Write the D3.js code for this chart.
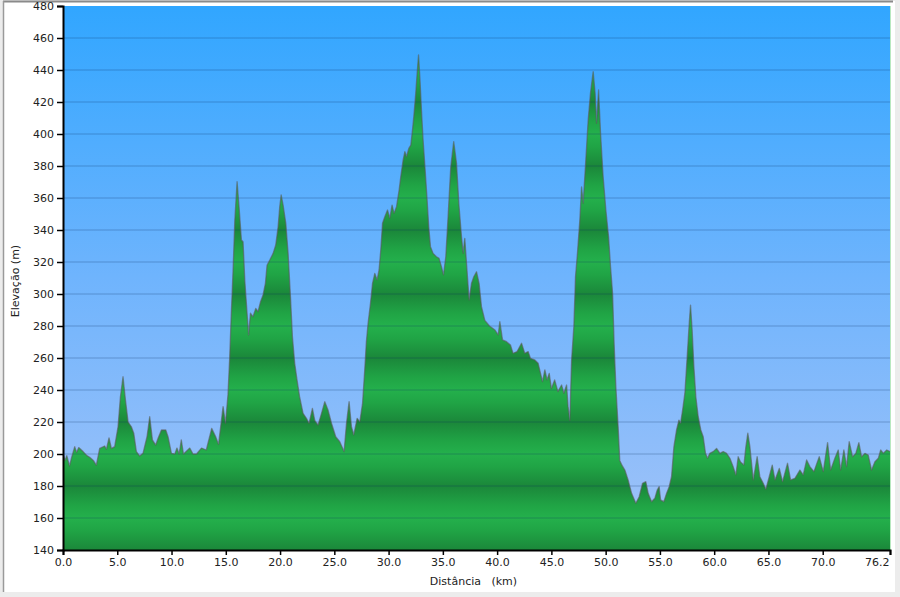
<!DOCTYPE html>
<html>
<head>
<meta charset="utf-8">
<script src="https://cdn.jsdelivr.net/npm/d3@7/dist/d3.min.js"></script>
<style>
html,body{margin:0;padding:0;background:#ececec;}
svg{display:block;}
text{font-family:"DejaVu Sans",Verdana,sans-serif;fill:#222;}
</style>
</head>
<body>
<svg id="chart" width="900" height="597"></svg>
<script>
// ---- data ----
const distKm = [0.0,0.2,0.35,0.6,0.8,1.08,1.25,1.45,1.85,2.2,2.46,2.8,3.07,3.38,3.84,4.0,4.24,4.46,4.76,5.07,5.29,5.53,5.75,6.0,6.3,6.52,6.76,7.07,7.37,7.74,7.99,8.24,8.54,8.76,9.07,9.47,9.68,9.99,10.3,10.5,10.7,10.9,11.1,11.68,11.98,12.3,12.76,13.2,13.7,14.07,14.33,14.75,14.97,15.2,15.36,15.52,15.67,15.83,16.04,16.22,16.44,16.59,16.75,16.96,17.1,17.27,17.5,17.76,17.97,18.2,18.43,18.65,18.8,19.05,19.36,19.6,19.82,19.97,20.1,20.28,20.53,20.74,20.96,21.14,21.35,21.57,21.8,22.12,22.43,22.67,22.98,23.2,23.5,23.82,24.12,24.42,24.74,25.13,25.5,25.9,26.12,26.36,26.58,26.79,27.1,27.35,27.6,27.8,27.95,28.11,28.33,28.52,28.73,28.94,29.12,29.28,29.44,29.65,29.9,30.11,30.32,30.5,30.73,30.97,31.12,31.34,31.5,31.65,31.86,32.05,32.2,32.32,32.5,32.63,32.76,32.88,33.03,33.18,33.37,33.55,33.7,33.86,34.1,34.41,34.65,34.87,35.06,35.27,35.48,35.73,36.0,36.26,36.47,36.72,36.87,37.02,37.18,37.42,37.64,37.85,38.1,38.34,38.56,38.87,39.3,39.8,40.1,40.25,40.5,40.87,41.23,41.47,41.84,42.25,42.55,42.86,43.07,43.47,43.78,44.0,44.18,44.4,44.6,44.8,45.0,45.3,45.6,45.94,46.15,46.4,46.54,46.7,46.86,47.07,47.22,47.4,47.62,47.78,47.93,48.17,48.39,48.6,48.85,49.03,49.16,49.35,49.53,49.77,50.02,50.27,50.45,50.64,50.78,50.94,51.15,51.3,51.5,51.77,52.07,52.39,52.78,53.09,53.4,53.7,53.92,54.23,54.53,54.75,54.93,55.06,55.36,55.61,55.85,56.07,56.29,56.53,56.75,56.9,57.09,57.3,57.51,57.7,57.82,57.97,58.13,58.31,58.53,58.77,58.99,59.2,59.39,59.6,59.91,60.22,60.53,60.83,61.14,61.45,61.75,62.0,62.21,62.43,62.74,62.92,63.1,63.29,63.6,63.96,64.21,64.52,64.76,65.07,65.35,65.6,66.0,66.3,66.76,67.04,67.44,67.9,68.2,68.52,68.82,69.19,69.68,70.05,70.45,70.73,71.12,71.43,71.65,71.95,72.2,72.44,72.75,73.05,73.33,73.58,73.89,74.19,74.5,74.81,75.12,75.34,75.58,75.9,76.2];
const elevM = [200,196,199,192.5,198,204.6,201,204,201.5,199,198,196,193,203.5,205,203,210,203.5,204.6,217,235.8,248.3,234,220,217,213,201.5,198.7,200.4,210.8,223.3,208.8,205.6,209.8,215,215,210.8,200.4,200,203.7,200,208.8,200,203.7,200,200,203.7,202.5,216,210.8,206,229.6,219.2,237,260.8,290,315,346,370.2,354.6,333.8,332.7,308.8,288,274.4,288,285.8,291,289,295.2,299.4,306.7,318,321.2,325.4,330.6,342,354.6,361.9,355.6,344.2,325.4,298.3,273.3,256.7,246,235.8,225.4,222.3,219.2,228.5,221,218.1,225.4,232.7,227.5,219.2,210.8,207.7,201.5,219.2,232.7,217.1,211.9,222.3,220.2,231.7,252.5,270,281.7,294.2,306.7,312.9,308.8,315,327.5,344.2,348.3,352.5,347.3,355.6,350.4,354.6,365,373.3,383.8,389,385.8,391,393.1,402.5,410.8,425.4,437.9,449.4,435.8,415,396.3,377.5,358.8,342,329.6,325.4,323.3,322.3,317.1,311.9,323.3,348.3,379.6,395.2,381.7,356.7,335.8,325.4,334.8,319.2,296.3,306.7,310.8,313.9,306.7,292.1,283.5,280,277.5,274.4,282.7,271.3,270.2,268.1,262.9,264,269.2,262.9,264,259.8,258.8,256.7,250.4,245.2,252.5,246.3,250.4,241,246.3,239,243.1,237.9,243.1,229.6,221,258.8,279.6,310.8,325.4,346.3,367,356.7,383.8,408.8,425.4,439,425.4,406.7,427.5,400.4,373.3,352.5,335.8,317.1,300.4,269.2,242.1,217.1,196,193,190,183.8,175.4,169.2,173.3,181.7,182.7,175.4,170.2,172.3,177.5,179.6,171.3,170.2,175.4,179.6,185.8,204.6,215,221.2,219.2,227.5,238,260.8,281.7,293.1,277.5,254.6,235.8,223.3,215,210.8,200.4,197.3,200.4,201.5,203.5,200.4,201.5,200.4,197.3,192.1,186.9,198.3,195,193.1,204.6,213,204.6,183.8,198.3,185.8,181.7,177.9,185.8,193.1,183.8,191,182.7,194.2,183.8,184.8,190,186.9,196.3,192.1,189,198.3,189,207.1,190,197.3,202.5,190,202.5,192.1,207.7,198.3,200.4,207.1,198.3,200.4,199.4,190,195.2,197.3,202.5,200.4,202.5,201.5];
const xTickValues = [0,5,10,15,20,25,30,35,40,45,50,55,60,65,70,76.2];
const yTickValues = [140,160,180,200,220,240,260,280,300,320,340,360,380,400,420,440,460,480];
const xTitle = "Distância   (km)";
const yTitle = "Elevação (m)";

// ---- layout ----
const svg = d3.select("#chart");
const L = 63, R = 890, T = 6, B = 550;
const x = d3.scaleLinear().domain([0, 76.2]).range([L, R]);
const y = d3.scaleLinear().domain([140, 480]).range([B, T]);

const defs = svg.append("defs");
const sky = defs.append("linearGradient").attr("id","sky")
  .attr("gradientUnits","userSpaceOnUse").attr("x1",0).attr("x2",0).attr("y1",T).attr("y2",B);
sky.append("stop").attr("offset",0).attr("stop-color","#31a6ff");
sky.append("stop").attr("offset",0.5).attr("stop-color","#6fb4fd");
sky.append("stop").attr("offset",1).attr("stop-color","#a2c3f8");

const grn = defs.append("linearGradient").attr("id","grn")
  .attr("gradientUnits","userSpaceOnUse").attr("spreadMethod","repeat")
  .attr("x1",0).attr("x2",0).attr("y1",y(180)).attr("y2",y(140));
grn.append("stop").attr("offset",0).attr("stop-color","#1b873a");
grn.append("stop").attr("offset",0.3).attr("stop-color","#20a445");
grn.append("stop").attr("offset",0.5).attr("stop-color","#24b04c");
grn.append("stop").attr("offset",0.7).attr("stop-color","#20a445");
grn.append("stop").attr("offset",1).attr("stop-color","#1b873a");

// panel
svg.append("rect").attr("x",3).attr("y",1).attr("width",892).attr("height",591).attr("fill","#fff");
svg.append("line").attr("x1",3).attr("x2",893).attr("y1",1.5).attr("y2",1.5).attr("stroke","#8a8a8a").attr("stroke-width",2);
svg.append("line").attr("x1",3.5).attr("x2",3.5).attr("y1",1).attr("y2",592).attr("stroke","#9a9a9a").attr("stroke-width",1.5);

// plot background
svg.append("rect").attr("x",L).attr("y",T).attr("width",R-L).attr("height",B-T).attr("fill","url(#sky)");

const pts = distKm.map((d,i)=>[d, elevM[i]]);
const area = d3.area().x(d=>x(d[0])).y0(y(140)).y1(d=>y(d[1]));
const line = d3.line().x(d=>x(d[0])).y(d=>y(d[1]));
svg.append("path").datum(pts).attr("d",area).attr("fill","url(#grn)");

// grid
svg.append("g").selectAll("line").data(yTickValues.filter(v=>v>140 && v<480)).join("line")
  .attr("x1",L).attr("x2",R).attr("y1",d=>y(d)).attr("y2",d=>y(d))
  .attr("stroke","#0a2a60").attr("stroke-opacity",0.28).attr("stroke-width",1);

svg.append("path").datum(pts).attr("d",line).attr("fill","none")
  .attr("stroke","#5a5a5a").attr("stroke-opacity",0.6).attr("stroke-width",1.3).attr("stroke-linejoin","round");

// right edge line
svg.append("line").attr("x1",R+0.5).attr("x2",R+0.5).attr("y1",T).attr("y2",B).attr("stroke","#b8e8c0").attr("stroke-width",1);

// axes
const yAxis = d3.axisLeft(y).tickValues(yTickValues).tickSize(6).tickPadding(3).tickFormat(d3.format("d"));
const gy = svg.append("g").attr("transform",`translate(${L},0)`).call(yAxis);
const xAxis = d3.axisBottom(x).tickValues(xTickValues).tickSize(5).tickPadding(3).tickFormat(d3.format(".1f"));
const gx = svg.append("g").attr("transform",`translate(0,${B})`).call(xAxis);
[gx,gy].forEach(g=>{
  g.select(".domain").attr("stroke","#000").attr("stroke-width",2);
  g.selectAll(".tick line").attr("stroke","#000").attr("stroke-width",1.5);
  g.selectAll(".tick text").attr("font-family","DejaVu Sans, Verdana, sans-serif").attr("font-size",11).attr("fill","#222");
});
gy.selectAll(".tick text").attr("dy","0.36em");
gx.selectAll(".tick").filter(d=>d===76.2).select("text").attr("text-anchor","end").attr("x",-1);

svg.append("text").attr("x",(L+R)/2 - 3).attr("y",585).attr("text-anchor","middle")
  .attr("font-size",11).style("white-space","pre").attr("xml:space","preserve").text(xTitle);
svg.append("text").attr("transform",`translate(19,${(T+B)/2 + 3}) rotate(-90)`).attr("text-anchor","middle")
  .attr("font-size",11).text(yTitle);
</script>
</body>
</html>
